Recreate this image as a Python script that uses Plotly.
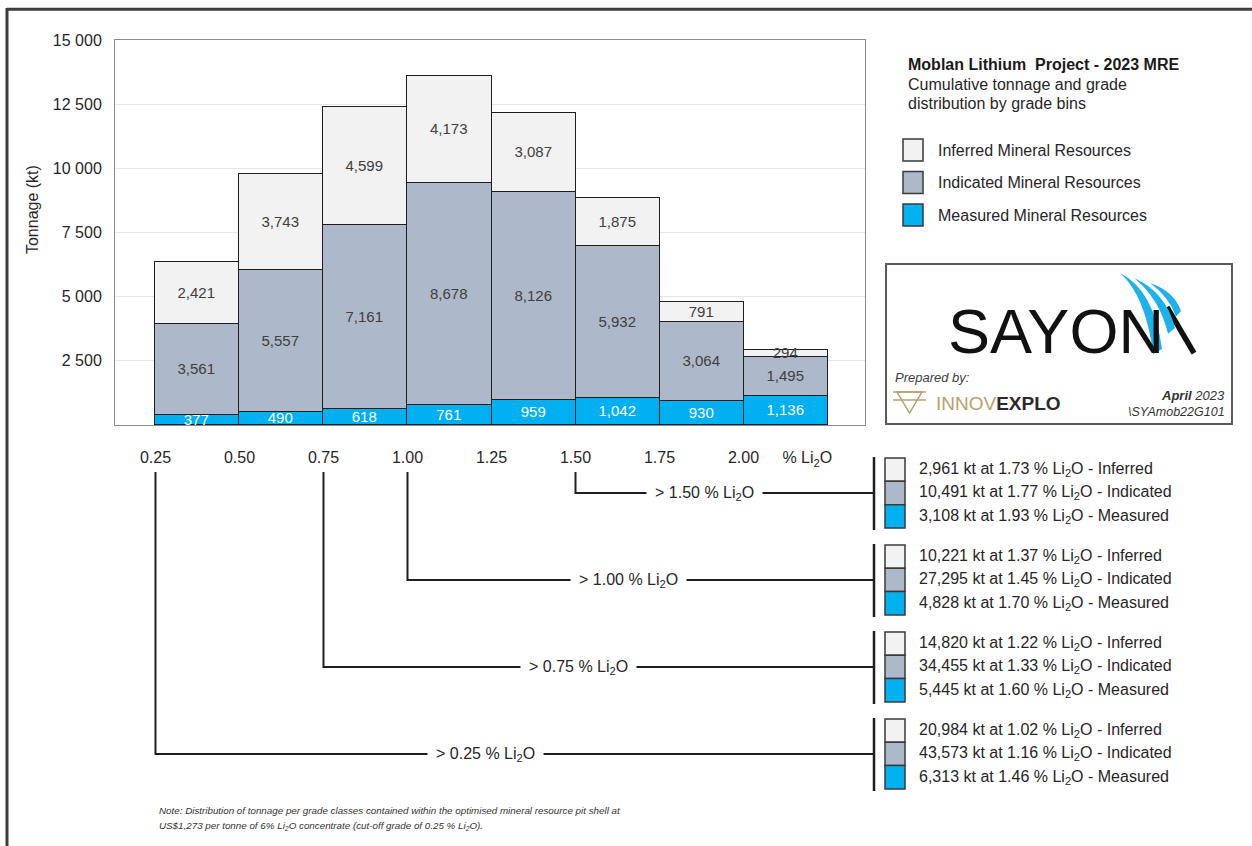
import math
import plotly.graph_objects as go

# ---------------- data ----------------
bin_edges = [0.25, 0.50, 0.75, 1.00, 1.25, 1.50, 1.75, 2.00]
bin_width = 0.25
measured = [377, 490, 618, 761, 959, 1042, 930, 1136]
indicated = [3561, 5557, 7161, 8678, 8126, 5932, 3064, 1495]
inferred = [2421, 3743, 4599, 4173, 3087, 1875, 791, 294]

y_ticks = [2500, 5000, 7500, 10000, 12500, 15000]
y_ticktext = ["2 500", "5 000", "7 500", "10 000", "12 500", "15 000"]
x_ticktext = ["0.25", "0.50", "0.75", "1.00", "1.25", "1.50", "1.75", "2.00"]
unit_label = "% Li<sub>2</sub>O"
unit_pos = 2.19

cutoffs = [1.50, 1.00, 0.75, 0.25]
inferred_kt = [2961, 10221, 14820, 20984]
inferred_grade = [1.73, 1.37, 1.22, 1.02]
indicated_kt = [10491, 27295, 34455, 43573]
indicated_grade = [1.77, 1.45, 1.33, 1.16]
measured_kt = [3108, 4828, 5445, 6313]
measured_grade = [1.93, 1.70, 1.60, 1.46]

classes = ["Inferred", "Indicated", "Measured"]
class_colors = {"Inferred": "#f2f2f2", "Indicated": "#adb9ca", "Measured": "#00b0f0"}
legend_names = ["Inferred Mineral Resources", "Indicated Mineral Resources", "Measured Mineral Resources"]

# ---------------- layout geometry ----------------
W, H = 1252, 846
PAGE = 854          # the page photo covers 854 px (8 px top offset) scaled to 846
PL, PR, PT, PB = 115, 865, 40, 425
XR = [0.1295, 2.3616]
YR = [0, 15000]
FONT = "Liberation Sans, Arial, sans-serif"
TXT = "#262626"


def px(x):
    return x / W


def py(y):
    fig_y = y * PAGE / H - (PAGE - H)
    return 1 - fig_y / H


def data_x_to_px(v):
    return PL + (v - XR[0]) / (XR[1] - XR[0]) * (PR - PL)


fig = go.Figure()

for name, vals, col, tcol in [
    ("Measured", measured, class_colors["Measured"], "white"),
    ("Indicated", indicated, class_colors["Indicated"], "#404040"),
    ("Inferred", inferred, class_colors["Inferred"], "#404040"),
]:
    fig.add_trace(go.Bar(
        x=bin_edges, y=vals, width=bin_width, offset=0, name=name,
        marker=dict(color=col, line=dict(color="#1e1e1e", width=1.5)),
        text=[f"{v:,}" for v in vals], textposition="inside",
        insidetextanchor="middle", textangle=0, constraintext="none",
        textfont=dict(family=FONT, size=15, color=tcol),
        hoverinfo="skip",
    ))

shapes = []
ann = []


def text_at(x, y, text, size, color=TXT, xa="left", ya="middle", fontkw=None, **kw):
    f = dict(size=size, color=color)
    if fontkw:
        f.update(fontkw)
    ann.append(dict(xref="paper", yref="paper", x=px(x), y=py(y), xanchor=xa, yanchor=ya,
                    text=text, showarrow=False, font=f, **kw))


# outer frame (top and left)
shapes.append(dict(type="line", xref="paper", yref="paper", x0=px(7), x1=px(W + 5), y0=0.9985, y1=0.9985,
                   line=dict(color="#3c3c3c", width=3)))
shapes.append(dict(type="line", xref="paper", yref="paper", x0=px(7), x1=px(7), y0=1.0, y1=-0.01,
                   line=dict(color="#3c3c3c", width=3)))

# y title
text_at(32, 210, "Tonnage (kt)", 16, xa="center", ya="middle", textangle=-90)

# title block
text_at(906, 64, "<b>Moblan Lithium  Project - 2023 MRE</b>", 16, color="#1a1a1a")
text_at(906, 84, "Cumulative tonnage and grade", 16)
text_at(906, 103, "distribution by grade bins", 16)

# legend
for i, (cls, lab) in enumerate(zip(classes, legend_names)):
    yc = 150 + i * 32.5
    shapes.append(dict(type="rect", xref="paper", yref="paper", x0=px(903), x1=px(923),
                       y0=py(yc - 11), y1=py(yc + 11), fillcolor=class_colors[cls],
                       line=dict(color="#3a3a3a", width=1.5)))
    text_at(936, yc, lab, 16)

# logo box
shapes.append(dict(type="rect", xref="paper", yref="paper", x0=px(886), x1=px(1232), y0=py(264), y1=py(424),
                   line=dict(color="#5a5a5a", width=2), fillcolor="white"))
text_at(946, 331, "SAYON", 63, color="#111111")
shapes.append(dict(type="line", xref="paper", yref="paper", x0=px(1167), y0=py(307), x1=px(1194), y1=py(353),
                   line=dict(color="#111111", width=5.5)))


def blade(p0, c, p1, t):
    dx, dy = p1[0] - p0[0], p1[1] - p0[1]
    L = math.hypot(dx, dy)
    nx, ny = -dy / L, dx / L
    q1 = (p1[0] + nx * t, p1[1] + ny * t)
    qc = (c[0] + nx * t, c[1] + ny * t)
    return (f"M {px(p0[0])},{py(p0[1])} Q {px(c[0])},{py(c[1])} {px(p1[0])},{py(p1[1])} "
            f"L {px(q1[0])},{py(q1[1])} Q {px(qc[0])},{py(qc[1])} {px(p0[0])},{py(p0[1])} Z")


for p0, c, p1, t in [
    ((1120, 273), (1154, 290), (1162, 349), 10),
    ((1134, 278), (1166, 292), (1175, 328), 9),
    ((1150, 283), (1174, 291), (1181, 311), 7.5),
]:
    shapes.append(dict(type="path", xref="paper", yref="paper", path=blade(p0, c, p1, t),
                       fillcolor="#1db2ec", line=dict(width=0)))

text_at(893, 377, "<i>Prepared by:</i>", 13, color="#404040")
gold = "#b5a36c"
shapes.append(dict(type="line", xref="paper", yref="paper", x0=px(893), x1=px(926), y0=py(392), y1=py(392),
                   line=dict(color=gold, width=1.5)))
shapes.append(dict(type="line", xref="paper", yref="paper", x0=px(893), x1=px(926), y0=py(400), y1=py(400),
                   line=dict(color=gold, width=1.5)))
shapes.append(dict(type="path", xref="paper", yref="paper",
                   path=f"M {px(897)},{py(392)} L {px(922)},{py(392)} L {px(909.5)},{py(413)} Z",
                   line=dict(color=gold, width=1.5)))
text_at(934, 403, f"<span style='color:{gold}'>INNOV</span><b>EXPLO</b>", 19, color="#2a2a2a")
text_at(1227, 395, "<i><b>April</b> 2023</i>", 13, color="#333333", xa="right")
text_at(1227, 412, "<i>\\SYAmob22G101</i>", 12.5, color="#333333", xa="right")

# cumulative brackets and boxes
line_c = "#1e1e1e"
bar_x = 874
label_x = {1.50: 704, 1.00: 629, 0.75: 578, 0.25: 485}
for i, c in enumerate(cutoffs):
    top = 458 + i * 87
    rows = [
        ("Inferred", inferred_kt[i], inferred_grade[i]),
        ("Indicated", indicated_kt[i], indicated_grade[i]),
        ("Measured", measured_kt[i], measured_grade[i]),
    ]
    for j, (cls, kt, g) in enumerate(rows):
        y0 = top + j * 23.3
        shapes.append(dict(type="rect", xref="paper", yref="paper", x0=px(885), x1=px(905),
                           y0=py(y0), y1=py(y0 + 23.3), fillcolor=class_colors[cls],
                           line=dict(color="#3a3a3a", width=1.5)))
        text_at(917, y0 + 11.5, f"{kt:,} kt at {g:.2f} % Li<sub>2</sub>O - {cls}", 16)
    ymid = top + 35
    shapes.append(dict(type="line", xref="paper", yref="paper", x0=px(bar_x), x1=px(bar_x),
                       y0=py(top - 1), y1=py(top + 72), line=dict(color=line_c, width=2.5)))
    xt = data_x_to_px(c)
    shapes.append(dict(type="path", xref="paper", yref="paper",
                       path=f"M {px(xt)},{py(472)} L {px(xt)},{py(ymid)} L {px(bar_x)},{py(ymid)}",
                       line=dict(color=line_c, width=2)))
    text_at(label_x[c], ymid, f"&gt; {c:.2f} % Li<sub>2</sub>O", 16, xa="center",
            bgcolor="white", borderpad=8)

# note
note_font = {"family": "Liberation Sans, Arial"}
text_at(157, 810, "<i>Note: Distribution of tonnage per grade classes contained within the optimised mineral resource pit shell at</i>",
        9.8, color="#333333", fontkw=note_font)
text_at(157, 826, "<i>US$1,273 per tonne of 6% Li<sub>2</sub>O concentrate (cut-off grade of 0.25 % Li<sub>2</sub>O).</i>",
        9.8, color="#333333", fontkw=note_font)

fig.update_layout(
    width=W, height=H, margin=dict(l=0, r=0, t=0, b=0),
    paper_bgcolor="white", plot_bgcolor="white",
    barmode="stack", bargap=0, showlegend=False,
    font=dict(family=FONT, color=TXT),
    shapes=shapes, annotations=ann,
    xaxis=dict(domain=[PL / W, PR / W], range=XR, tickvals=bin_edges + [unit_pos],
               ticktext=x_ticktext + [unit_label], ticks="outside", ticklen=18,
               tickcolor="rgba(0,0,0,0)", showline=True, mirror=True, linecolor="#8c8c8c",
               linewidth=1, showgrid=False, zeroline=False, tickfont=dict(size=16, color=TXT),
               fixedrange=True),
    yaxis=dict(domain=[py(PB), py(PT)], range=YR, tickvals=y_ticks, ticktext=y_ticktext,
               ticks="outside", ticklen=9, tickcolor="rgba(0,0,0,0)", showline=True, mirror=True,
               linecolor="#8c8c8c", linewidth=1, showgrid=True, gridcolor="#e6e6e6", zeroline=False,
               tickfont=dict(size=16, color=TXT), fixedrange=True),
)

fig.write_html(
    "out.html", config={"displayModeBar": False},
    post_script=("document.documentElement.style.margin='0';document.body.style.margin='0';"
                 "document.body.style.overflow='hidden';"),
)
